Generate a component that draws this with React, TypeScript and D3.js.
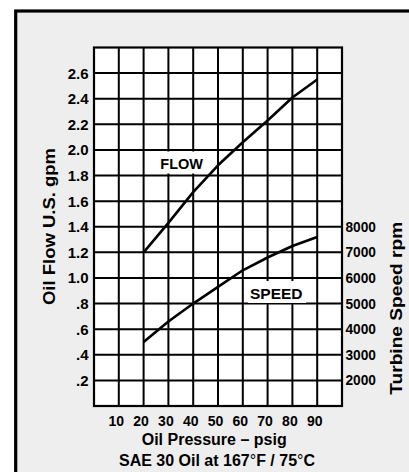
import React from 'react';
import * as d3 from 'd3';

// oil pressure, psig
const pressure = [20, 30, 40, 50, 60, 70, 80, 90];
// oil flow, U.S. gpm
const flow = [1.2, 1.43, 1.67, 1.88, 2.06, 2.23, 2.41, 2.55];
// turbine speed, rpm
const speed = [3500, 4300, 5000, 5650, 6300, 6800, 7250, 7600];

const xTicks = [10, 20, 30, 40, 50, 60, 70, 80, 90];
const flowTicks = [0.2, 0.4, 0.6, 0.8, 1.0, 1.2, 1.4, 1.6, 1.8, 2.0, 2.2, 2.4, 2.6];
const flowTickLabels = ['.2', '.4', '.6', '.8', '1.0', '1.2', '1.4', '1.6', '1.8', '2.0', '2.2', '2.4', '2.6'];
const speedTicks = [2000, 3000, 4000, 5000, 6000, 7000, 8000];
const gridY = [0.2, 0.4, 0.6, 0.8, 1.0, 1.2, 1.4, 1.6, 1.8, 2.0, 2.2, 2.4, 2.6];

const W = 409;
const H = 472;
const font = 'Liberation Sans, Arial, Helvetica, sans-serif';

export default function App() {
  const x = d3.scaleLinear().domain([0, 100]).range([94, 342]);
  const y = d3.scaleLinear().domain([0, 2.8]).range([406, 47.5]);
  // right axis shares the grid: 2000 rpm at .2 gpm, 8000 rpm at 1.4 gpm
  const yr = d3.scaleLinear().domain([1000, 15000]).range([406, 47.5]);

  const flowLine = d3.line<number>()
    .x((d, i) => x(pressure[i]))
    .y(d => y(d));
  const speedLine = d3.line<number>()
    .x((d, i) => x(pressure[i]))
    .y(d => yr(d));

  const gridX = d3.range(10, 100, 10);

  return (
    <svg width={W} height={H} style={{ position: 'absolute', left: 0, top: 0 }}
      fontFamily={font} fontWeight="bold">
      <rect x={0} y={0} width={W} height={H} fill="#fff" />
      <rect x={15.7} y={11} width={430} height={480} fill="#eeeeee" stroke="#000" strokeWidth={3.2} />

      <rect x={x(0)} y={y(2.8)} width={x(100) - x(0)} height={y(0) - y(2.8)} fill="#fff" />
      {gridX.map(v => (
        <line key={'gx' + v} x1={x(v)} x2={x(v)} y1={y(2.8)} y2={y(0)} stroke="#000" strokeWidth={2} />
      ))}
      {gridY.map(v => (
        <line key={'gy' + v} x1={x(0)} x2={x(100)} y1={y(v)} y2={y(v)} stroke="#000" strokeWidth={2} />
      ))}
      <rect x={x(0)} y={y(2.8)} width={x(100) - x(0)} height={y(0) - y(2.8)} fill="none" stroke="#000" strokeWidth={2.2} />

      <path d={flowLine(flow) || ''} fill="none" stroke="#000" strokeWidth={2.6} strokeLinejoin="round" />
      <path d={speedLine(speed) || ''} fill="none" stroke="#000" strokeWidth={2.6} strokeLinejoin="round" />

      <rect x={158} y={151.5} width={47} height={22} fill="#fff" />
      <text x={181.7} y={169.3} fontSize={14.5} textAnchor="middle">FLOW</text>
      <rect x={248} y={281} width={58} height={22} fill="#fff" />
      <text x={276.3} y={299} fontSize={15.5} textAnchor="middle">SPEED</text>

      {flowTicks.map((v, i) => (
        <text key={'fl' + v} x={88.5} y={y(v)} dy="0.36em" fontSize={15} textAnchor="end">{flowTickLabels[i]}</text>
      ))}
      {speedTicks.map(v => (
        <text key={'sp' + v} x={345.5} y={yr(v)} dy="0.36em" fontSize={14} textAnchor="start"
          textLength={30.5} lengthAdjust="spacingAndGlyphs">{v}</text>
      ))}
      {xTicks.map(v => (
        <text key={'xt' + v} x={x(v) - 2.5} y={425.5} fontSize={14} textAnchor="middle">{v}</text>
      ))}

      <text transform="translate(55,226.5) rotate(-90)" fontSize={16} textAnchor="middle"
        textLength={157} lengthAdjust="spacingAndGlyphs">Oil Flow U.S. gpm</text>
      <text transform="translate(401.7,308.3) rotate(-90)" fontSize={16} textAnchor="middle"
        textLength={173} lengthAdjust="spacingAndGlyphs">Turbine Speed rpm</text>

      <text x={214.2} y={445} fontSize={16} textAnchor="middle">Oil Pressure – psig</text>
      <text x={217} y={465.5} fontSize={16} textAnchor="middle">
        SAE 30 Oil at 167<tspan fontWeight="normal">°</tspan>F / 75<tspan fontWeight="normal">°</tspan>C
      </text>
    </svg>
  );
}
